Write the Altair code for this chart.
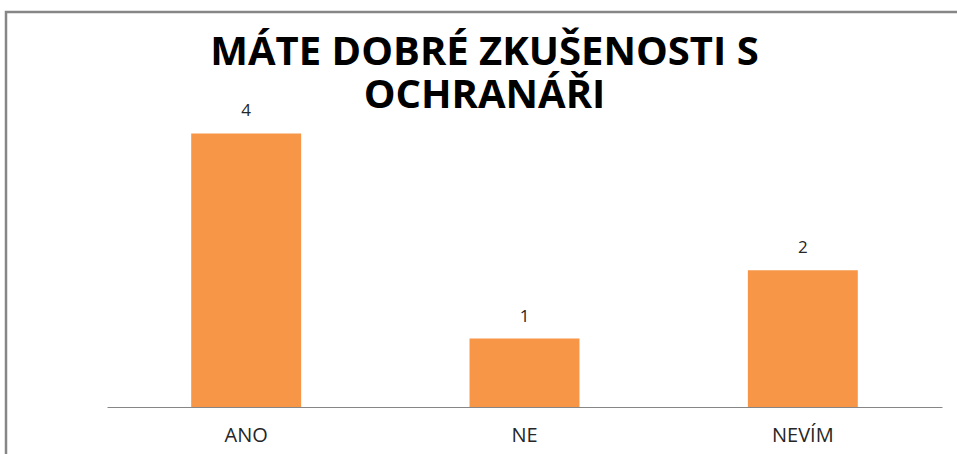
import altair as alt
import pandas as pd

categories = ["ANO", "NE", "NEVÍM"]
values = [4, 1, 2]
title_lines = ["MÁTE DOBRÉ ZKUŠENOSTI S", "OCHRANÁŘI"]

df = pd.DataFrame({"odpoved": categories, "pocet": values})

PAD_L, PAD_T = 107, 65
W, H = 835, 342

x_enc = alt.X(
    "odpoved:N",
    sort=categories,
    title=None,
    scale=alt.Scale(paddingInner=0.605, paddingOuter=0.3025),
    axis=alt.Axis(
        labelAngle=0,
        ticks=False,
        domainColor="#868686",
        domainWidth=1,
        labelFont="Open Sans",
        labelFontSize=20,
        labelColor="#262626",
        labelPadding=18,
        grid=False,
    ),
)
y_enc = alt.Y("pocet:Q", scale=alt.Scale(domain=[0, 5]), axis=None)

base = alt.Chart(df)

bars = base.mark_bar(color="#F79646").encode(x=x_enc, y=y_enc)
labels = base.mark_text(
    dy=-13, font="Open Sans", fontSize=17, color="#262626", baseline="bottom"
).encode(x=x_enc, y=y_enc, text="pocet:Q")

frame = alt.Chart(pd.DataFrame({"k": [0]})).mark_rect(
    fill=None, stroke="#868686", strokeWidth=2.5
).encode(
    x=alt.value(6 - PAD_L),
    y=alt.value(12 - PAD_T),
    x2=alt.value(957 - PAD_L + 20),
    y2=alt.value(454 - PAD_T + 20),
)

chart = (
    alt.layer(frame, bars, labels)
    .properties(
        width=W,
        height=H,
        view=alt.ViewBackground(strokeOpacity=0, strokeWidth=0),
        autosize=alt.AutoSizeParams(type="none"),
        padding={"left": PAD_L, "top": PAD_T, "right": 957 - PAD_L - W, "bottom": 454 - PAD_T - H},
        title=alt.TitleParams(
            text=title_lines,
            font="Open Sans",
            fontSize=40,
            fontWeight="bold",
            color="#000000",
            anchor="middle",
            dx=-40,
            offset=-105,
            lineHeight=43,
        ),
    )
    .configure_view(stroke="transparent", strokeWidth=0, strokeOpacity=0)
    .configure(background="white")
)

chart.save("out.html", embed_options={"renderer": "svg", "actions": False})
